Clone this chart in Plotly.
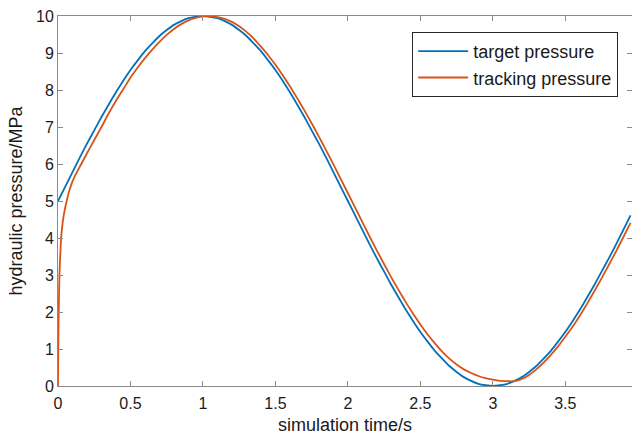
import plotly.graph_objects as go

# target pressure (MPa)
t_target = [0.00, 0.05, 0.10, 0.15, 0.20, 0.25, 0.30, 0.35, 0.40, 0.45, 0.50, 0.55, 0.60, 0.65, 0.70, 0.75, 0.80, 0.85, 0.90, 0.95,
            1.00, 1.05, 1.10, 1.15, 1.20, 1.25, 1.30, 1.35, 1.40, 1.45, 1.50, 1.55, 1.60, 1.65, 1.70, 1.75, 1.80, 1.85, 1.90, 1.95,
            2.00, 2.05, 2.10, 2.15, 2.20, 2.25, 2.30, 2.35, 2.40, 2.45, 2.50, 2.55, 2.60, 2.65, 2.70, 2.75, 2.80, 2.85, 2.90, 2.95,
            3.00, 3.05, 3.10, 3.15, 3.20, 3.25, 3.30, 3.35, 3.40, 3.45, 3.50, 3.55, 3.60, 3.65, 3.70, 3.75, 3.80, 3.85, 3.90, 3.95]
p_target = [5.00, 5.39, 5.78, 6.17, 6.55, 6.91, 7.27, 7.61, 7.94, 8.25, 8.54, 8.80, 9.05, 9.26, 9.46, 9.62, 9.76, 9.86, 9.94, 9.98,
            10.00, 9.98, 9.94, 9.86, 9.76, 9.62, 9.46, 9.26, 9.05, 8.80, 8.54, 8.25, 7.94, 7.61, 7.27, 6.91, 6.55, 6.17, 5.78, 5.39,
            5.00, 4.61, 4.22, 3.83, 3.45, 3.09, 2.73, 2.39, 2.06, 1.75, 1.46, 1.20, 0.95, 0.74, 0.54, 0.38, 0.24, 0.14, 0.06, 0.02,
            0.00, 0.02, 0.06, 0.14, 0.24, 0.38, 0.54, 0.74, 0.95, 1.20, 1.46, 1.75, 2.06, 2.39, 2.73, 3.09, 3.45, 3.83, 4.22, 4.61]

# tracking pressure (MPa)
t_track = [0.000, 0.002, 0.005, 0.010, 0.020, 0.030, 0.040, 0.050, 0.060, 0.075, 0.094, 0.110, 0.125, 0.163, 0.20, 0.25, 0.30,
           0.35, 0.40, 0.45, 0.50, 0.55, 0.60, 0.65, 0.70, 0.75, 0.80, 0.85, 0.90, 0.95, 1.00, 1.04, 1.10, 1.15, 1.20, 1.25, 1.30,
           1.35, 1.40, 1.45, 1.50, 1.55, 1.60, 1.65, 1.70, 1.75, 1.80, 1.85, 1.90, 1.95, 2.00, 2.05, 2.10, 2.15, 2.20, 2.25, 2.30,
           2.35, 2.40, 2.45, 2.50, 2.55, 2.60, 2.65, 2.70, 2.75, 2.80, 2.85, 2.90, 2.95, 3.00, 3.05, 3.10, 3.15, 3.20, 3.25, 3.30,
           3.35, 3.40, 3.45, 3.50, 3.55, 3.60, 3.65, 3.70, 3.75, 3.80, 3.85, 3.90, 3.95]
p_track = [0.00, 1.00, 2.00, 3.00, 3.90, 4.35, 4.62, 4.83, 5.00, 5.24, 5.47, 5.62, 5.74, 6.02, 6.29, 6.65, 7.00,
           7.37, 7.71, 8.02, 8.34, 8.61, 8.86, 9.09, 9.30, 9.49, 9.65, 9.78, 9.88, 9.95, 9.99, 10.00, 9.97, 9.92, 9.84, 9.72, 9.57,
           9.39, 9.17, 8.94, 8.68, 8.40, 8.10, 7.78, 7.45, 7.10, 6.74, 6.37, 5.99, 5.60, 5.21, 4.82, 4.43, 4.04, 3.66, 3.29, 2.93,
           2.59, 2.26, 1.95, 1.66, 1.39, 1.15, 0.93, 0.74, 0.58, 0.45, 0.35, 0.27, 0.21, 0.17, 0.14, 0.13, 0.13, 0.19, 0.30, 0.45,
           0.63, 0.84, 1.07, 1.33, 1.60, 1.90, 2.22, 2.56, 2.91, 3.27, 3.64, 4.02, 4.41]

x_ticks = [0, 0.5, 1, 1.5, 2, 2.5, 3, 3.5]
x_tick_text = ["0", "0.5", "1", "1.5", "2", "2.5", "3", "3.5"]
y_ticks = [0, 1, 2, 3, 4, 5, 6, 7, 8, 9, 10]

FONT = "Liberation Sans, Arial, sans-serif"
AX = "#8a8a8a"

fig = go.Figure()
fig.add_trace(go.Scatter(x=t_target, y=p_target, mode="lines", name="target pressure",
                         line=dict(color="#0072BD", width=1.8, shape="spline", smoothing=0.5)))
fig.add_trace(go.Scatter(x=t_track, y=p_track, mode="lines", name="tracking pressure",
                         line=dict(color="#D95319", width=1.8, shape="spline", smoothing=0.5)))

fig.update_layout(
    width=632, height=435,
    margin=dict(l=58, r=0, t=16, b=49),
    paper_bgcolor="white", plot_bgcolor="white",
    font=dict(family=FONT, size=16, color="#1a1a1a"),
    showlegend=True,
    legend=dict(x=0.617, y=0.957, xanchor="left", yanchor="top",
                bgcolor="white", bordercolor="#262626", borderwidth=1,
                font=dict(family=FONT, size=18, color="#1a1a1a"),
                tracegroupgap=0, itemwidth=50),
    xaxis=dict(range=[0, 3.96], tickvals=x_ticks, ticktext=x_tick_text,
               showgrid=False, zeroline=False, showline=True, linecolor=AX, linewidth=1,
               mirror="ticks", ticks="inside", ticklen=5, tickcolor=AX, ticklabelstandoff=3,
               title=dict(text="simulation time/s", standoff=9, font=dict(size=18)),
               tickfont=dict(size=16)),
    yaxis=dict(range=[0, 10], tickvals=y_ticks,
               showgrid=False, zeroline=False, showline=True, linecolor=AX, linewidth=1,
               mirror="ticks", ticks="inside", ticklen=5, tickcolor=AX,
               title=dict(text="hydraulic pressure/MPa", standoff=8, font=dict(size=18)),
               tickfont=dict(size=16)),
)

fig.write_html("out.html")
